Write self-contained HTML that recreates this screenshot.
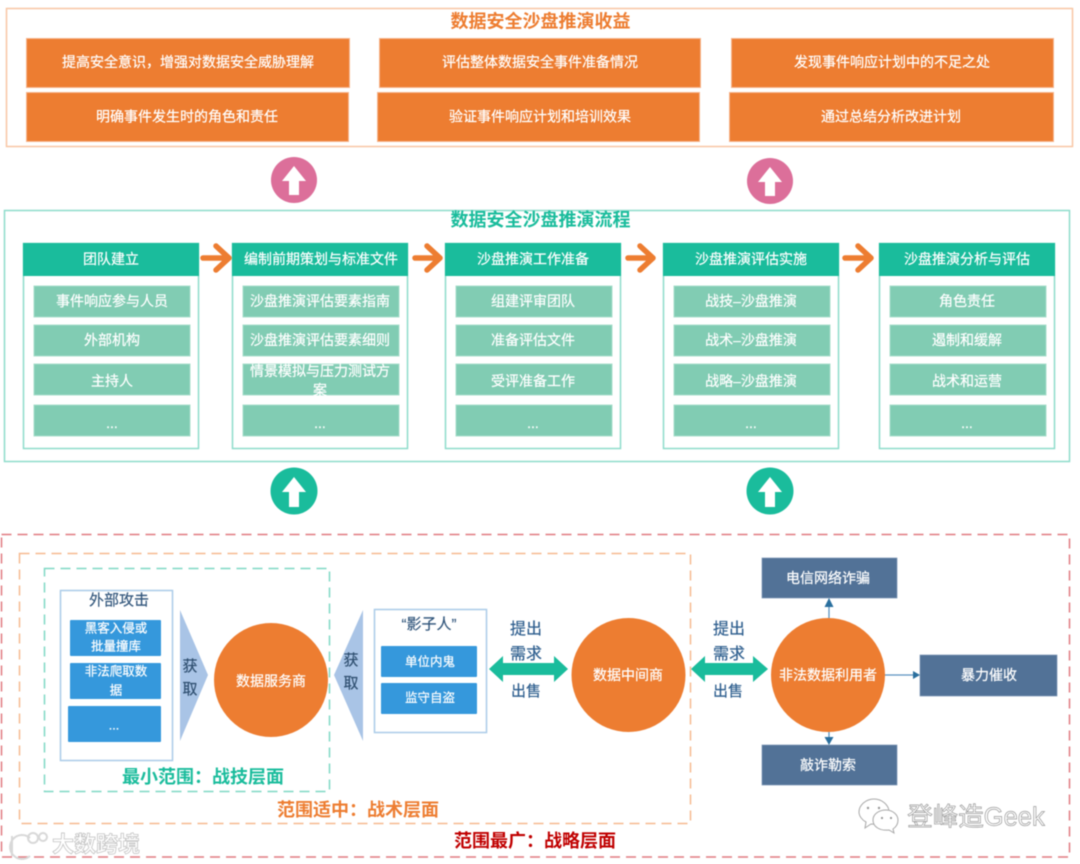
<!DOCTYPE html>
<html lang="zh-CN"><head><meta charset="utf-8"><title>数据安全沙盘推演</title>
<style>
html,body{margin:0;padding:0;background:#fff;width:1080px;height:864px;overflow:hidden}
svg{display:block;filter:blur(.45px)}
text{font-family:"Liberation Sans","Noto Sans CJK SC",sans-serif;text-anchor:middle;dominant-baseline:central;font-size:14px;fill:#fff;stroke:#fff;stroke-width:.2px;transform:translateY(.7px)}
.t{font-size:18px;font-weight:700;stroke:none}
.o{fill:#ed7d31}.g{fill:#1abc9c}.r{fill:#c00000}
.d{fill:#2f5f8f;font-size:16px;stroke:#2f5f8f}
.s{font-size:12.5px}
.wm{fill:#fff;stroke:#9a9a9a;stroke-width:.7px}
</style></head><body>
<svg width="1080" height="864" viewBox="0 0 1080 864" xmlns="http://www.w3.org/2000/svg">
<defs><clipPath id="c"><rect x="243" y="364" width="156" height="31"/></clipPath></defs>

<!-- Top panel -->
<rect x="6.500" y="8.500" width="1066" height="138" fill="#fff" stroke="#f8c6a4" stroke-width="1.500"/>
<text class="t o" x="540.500" y="21">数据安全沙盘推演收益</text>
<g fill="#ed7d31" stroke="#f6b48c" stroke-width="1">
<rect x="26.500" y="38.500" width="323" height="49"/><rect x="379.500" y="38.500" width="321" height="49"/><rect x="731.500" y="38.500" width="322" height="49"/>
<rect x="26.500" y="92.500" width="322" height="49"/><rect x="377.500" y="92.500" width="322" height="49"/><rect x="729.500" y="92.500" width="324" height="49"/>
</g>
<text x="188" y="61.500">提高安全意识，增强对数据安全威胁理解</text>
<text x="540" y="61.500">评估整体数据安全事件准备情况</text>
<text x="892" y="61.500">发现事件响应计划中的不足之处</text>
<text x="187" y="116">明确事件发生时的角色和责任</text>
<text x="540" y="116">验证事件响应计划和培训效果</text>
<text x="891" y="116">通过总结分析改进计划</text>

<!-- Round arrows -->
<circle cx="294" cy="180" r="23" fill="#dc6f9a"/><circle cx="770" cy="181" r="23" fill="#dc6f9a"/>
<circle cx="294" cy="491" r="23.500" fill="#1abc9c"/><circle cx="770" cy="491" r="23.500" fill="#1abc9c"/>
<g fill="#fff">
<path d="M294 166 L306 181 L299 181 L299 195 L289 195 L289 181 L282 181Z"/>
<path d="M770 167 L782 182 L775 182 L775 196 L765 196 L765 182 L758 182Z"/>
<path d="M294 477 L306 492 L299 492 L299 507 L289 507 L289 492 L282 492Z"/>
<path d="M770 477 L782 492 L775 492 L775 507 L765 507 L765 492 L758 492Z"/>
</g>

<!-- Flow panel -->
<rect x="4.500" y="210.500" width="1065" height="251" fill="#fff" stroke="#8edccb" stroke-width="1.500"/>
<text class="t g" x="540.500" y="219.500">数据安全沙盘推演流程</text>

<g fill="#fff" stroke="#8edccb" stroke-width="1.500">
<rect x="23.500" y="243.500" width="175" height="205"/><rect x="232.500" y="243.500" width="175" height="205"/><rect x="445.500" y="243.500" width="175" height="205"/><rect x="663.500" y="243.500" width="175" height="205"/><rect x="879.500" y="243.500" width="175" height="205"/>
</g>
<g fill="#1abc9c">
<rect x="23" y="243" width="176" height="33"/><rect x="232" y="243" width="176" height="33"/><rect x="445" y="243" width="176" height="33"/><rect x="663" y="243" width="176" height="33"/><rect x="879" y="243" width="176" height="33"/>
</g>
<g fill="#81ccb3" stroke="#a9dfcd" stroke-width="1">
<rect x="34" y="286" width="156" height="31"/><rect x="34" y="325" width="156" height="31"/><rect x="34" y="364" width="156" height="31"/><rect x="34" y="405" width="156" height="31"/>
<rect x="243" y="286" width="156" height="31"/><rect x="243" y="325" width="156" height="31"/><rect x="243" y="364" width="156" height="31"/><rect x="243" y="405" width="156" height="31"/>
<rect x="456" y="286" width="156" height="31"/><rect x="456" y="325" width="156" height="31"/><rect x="456" y="364" width="156" height="31"/><rect x="456" y="405" width="156" height="31"/>
<rect x="674" y="286" width="156" height="31"/><rect x="674" y="325" width="156" height="31"/><rect x="674" y="364" width="156" height="31"/><rect x="674" y="405" width="156" height="31"/>
<rect x="890" y="286" width="156" height="31"/><rect x="890" y="325" width="156" height="31"/><rect x="890" y="364" width="156" height="31"/><rect x="890" y="405" width="156" height="31"/>
</g>
<text x="111" y="258.500">团队建立</text><text x="321" y="258.500">编制前期策划与标准文件</text><text x="533" y="258.500">沙盘推演工作准备</text><text x="751" y="258.500">沙盘推演评估实施</text><text x="967" y="258.500">沙盘推演分析与评估</text>

<text x="112" y="300.500">事件响应参与人员</text><text x="112" y="339.500">外部机构</text><text x="112" y="380.500">主持人</text><text x="112" y="422.500">...</text>
<text x="320" y="300.500">沙盘推演评估要素指南</text><text x="320" y="339.500">沙盘推演评估要素细则</text>
<text x="320" y="370.500">情景模拟与压力测试方</text><text x="320" y="389.500" clip-path="url(#c)">案</text><text x="320" y="422.500">...</text>
<text x="533" y="300.500">组建评审团队</text><text x="533" y="339.500">准备评估文件</text><text x="533" y="380.500">受评准备工作</text><text x="533" y="422.500">...</text>
<text x="751" y="300.500">战技–沙盘推演</text><text x="751" y="339.500">战术–沙盘推演</text><text x="751" y="380.500">战略–沙盘推演</text><text x="751" y="422.500">...</text>
<text x="967" y="300.500">角色责任</text><text x="967" y="339.500">遏制和缓解</text><text x="967" y="380.500">战术和运营</text><text x="967" y="422.500">...</text>

<g fill="none" stroke="#ed7d31" stroke-width="5.500" stroke-linecap="round" stroke-linejoin="round">
<path d="M203 258 H229 M216 246 L229 258 L216 270"/>
<path d="M415 258 H440 M427 246 L440 258 L427 270"/>
<path d="M628 258 H653 M640 246 L653 258 L640 270"/>
<path d="M845 258 H871 M858 246 L871 258 L858 270"/>
</g>

<!-- Bottom dashed frames -->
<rect x="1.500" y="534.500" width="1068" height="322.500" fill="none" stroke="#e07a80" stroke-width="1.500" stroke-dasharray="10 6"/>
<rect x="19.500" y="553.500" width="671" height="270" fill="none" stroke="#f6b98f" stroke-width="1.500" stroke-dasharray="10 6"/>
<rect x="44.500" y="568.500" width="285" height="223" fill="none" stroke="#7fd8c4" stroke-width="1.500" stroke-dasharray="10 6"/>

<text class="t g" x="203" y="776.500">最小范围：战技层面</text>
<text class="t o" x="358" y="809.500">范围适中：战术层面</text>
<text class="t r" x="535" y="840.500">范围最广：战略层面</text>

<!-- External attacks -->
<rect x="60.500" y="590.500" width="112" height="170" fill="#fff" stroke="#aacbe8" stroke-width="1.500"/>
<text x="119" y="600" style="fill:#34587d;stroke:#34587d;font-size:15px">外部攻击</text>
<g fill="#3598dc">
<rect x="70" y="620" width="91" height="36" rx="1"/><rect x="70" y="663" width="91" height="36" rx="1"/><rect x="68" y="706" width="93" height="36" rx="1"/>
</g>
<text class="s" x="116" y="628">黑客入侵或</text><text class="s" x="116" y="646">批量撞库</text>
<text class="s" x="116" y="671">非法爬取数</text><text class="s" x="116" y="690">据</text>
<text class="s" x="114" y="725">...</text>

<path d="M180 610 L208 675 L180 741Z" fill="#a9c4e6"/>
<path d="M363 610 L334 675 L363 741Z" fill="#a9c4e6"/>
<text x="190" y="666" style="fill:#2f4f70;stroke:#2f4f70;font-size:15px">获</text><text x="190" y="689" style="fill:#2f4f70;stroke:#2f4f70;font-size:15px">取</text>
<text x="351" y="660" style="fill:#2f4f70;stroke:#2f4f70;font-size:15px">获</text><text x="351" y="683" style="fill:#2f4f70;stroke:#2f4f70;font-size:15px">取</text>

<!-- Circles -->
<g fill="#ed7d31">
<circle cx="271" cy="680" r="57"/><circle cx="628.500" cy="675" r="57"/><circle cx="828" cy="675" r="57"/>
</g>
<text x="271" y="680.500">数据服务商</text><text x="628" y="674.500">数据中间商</text><text x="828" y="674.500">非法数据利用者</text>

<!-- Shadow people -->
<rect x="374.500" y="609.500" width="112" height="123" fill="#fff" stroke="#aacbe8" stroke-width="1.500"/>
<text x="429" y="624" style="fill:#34587d;stroke:#34587d;font-size:15px">“影子人”</text>
<g fill="#3598dc"><rect x="381" y="646" width="96" height="31" rx="1"/><rect x="381" y="683" width="96" height="31" rx="1"/></g>
<text class="s" x="430" y="661.500">单位内鬼</text><text class="s" x="430" y="697.500">监守自盗</text>

<!-- Double arrows -->
<g fill="#1abc9c">
<path d="M489 669 L503 656 L503 663 L554 663 L554 656 L568 669 L554 682 L554 675 L503 675 L503 682Z"/>
<path d="M691 669 L705 656 L705 663 L753 663 L753 656 L768 669 L753 682 L753 675 L705 675 L705 682Z"/>
</g>
<text class="d" x="526" y="629">提出</text><text class="d" x="526" y="654">需求</text><text class="d" x="526" y="691" style="font-size:15px">出售</text>
<text class="d" x="729" y="629">提出</text><text class="d" x="729" y="654">需求</text><text class="d" x="728" y="691" style="font-size:15px">出售</text>

<!-- Right boxes -->
<g fill="#527297" stroke="#7d97b5" stroke-width=".7">
<rect x="762" y="558" width="135" height="40"/><rect x="920" y="655" width="137" height="41"/><rect x="762" y="745" width="135" height="40"/>
</g>
<text x="828" y="577.500">电信网络诈骗</text><text x="989" y="674.500">暴力催收</text><text x="828" y="764.500">敲诈勒索</text>

<g stroke="#5b93c0" stroke-width="1.300" fill="none">
<path d="M829 618 V606"/><path d="M829 732 V738"/><path d="M885 675 H914"/>
</g>
<g fill="#2a6f9e">
<path d="M829 598 L833.500 607 L824.500 607Z"/><path d="M829 745 L824.500 737 L833.500 737Z"/><path d="M920 675 L913 671 L913 679Z"/>
</g>

<!-- Watermarks -->
<g fill="#fff" stroke="#a8a8a8" stroke-width="1">
<path d="M866 822 L865 828 L871 824 C882 825 889 819 889 812 C889 805 882 799 874 799 C866 799 859 805 859 812 C859 816 862 820 866 822Z"/>
<path d="M893 829 L894 833 L889 830 C880 831 873 827 873 820 C873 814 879 810 886 810 C893 810 898 815 898 820 C898 824 896 827 893 829Z"/>
</g>
<g fill="#999">
<circle cx="868" cy="808" r="1.200"/><circle cx="879" cy="808" r="1.200"/><circle cx="882" cy="818" r="1.100"/><circle cx="891" cy="818" r="1.100"/>
</g>
<text class="wm" x="976" y="817" style="font-size:25.500px">登峰造Geek</text>
<g fill="none" stroke="#d8d8d8" stroke-width="2">
<path d="M12 836 V856"/><path d="M30 838 A12 12 0 1 0 30 856"/><circle cx="33" cy="838" r="5"/><circle cx="43" cy="837" r="4"/>
</g>
<text x="96" y="844" style="fill:#fff;stroke:#c4c4c4;stroke-width:.8px;font-size:22px;font-weight:700">大数跨境</text>
</svg>
</body></html>
